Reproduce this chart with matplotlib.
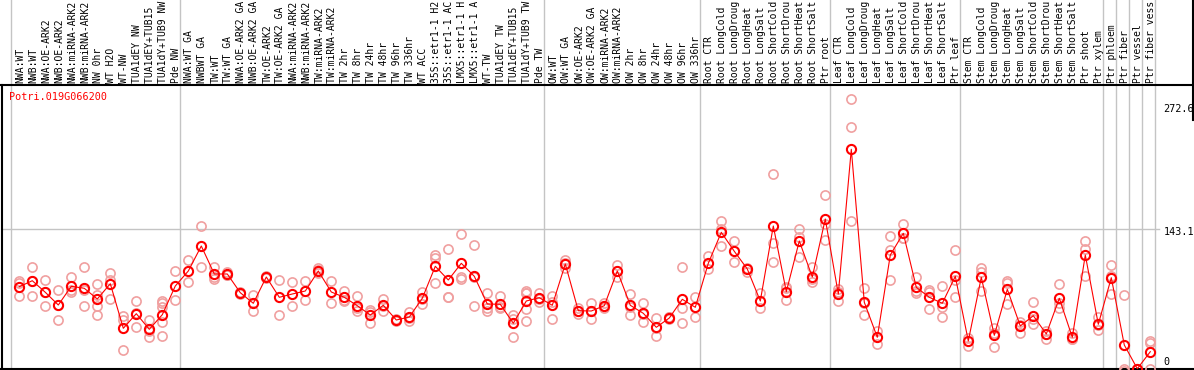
import matplotlib
matplotlib.use("Agg")
import matplotlib.pyplot as plt
import numpy as np

gene = "Potri.019G066200"

labels = [
    "NWA:WT", "NWB:WT", "NWA:OE-ARK2", "NWB:OE-ARK2", "NWA:miRNA-ARK2", "NWB:miRNA-ARK2",
    "NW 0hr", "WT H2O", "WT-NW", "TUA1dEY NW", "TUA1dEY+TUB15 NW", "TUA1dY+TUB9 NW", "Pde NW",
    "NWA:WT GA", "NWBWT GA", "TW:WT", "TW:WT GA", "NWA:OE-ARK2 GA", "NWB:OE-ARK2 GA",
    "TW:OE-ARK2", "TW:OE-ARK2 GA", "NWA:miRNA-ARK2 GA", "NWB:miRNA-ARK2 GA", "TW:miRNA-ARK2",
    "TW:miRNA-ARK2 GA", "TW 2hr", "TW 8hr", "TW 24hr", "TW 48hr", "TW 96hr", "TW 336hr",
    "WT ACC", "35S::etr1-1 H2O", "35S::etr1-1 ACC", "LMX5::etr1-1 H2O", "LMX5::etr1-1 ACC",
    "WT-TW", "TUA1dEY TW", "TUA1dEY+TUB15 TW", "TUA1dY+TUB9 TW", "Pde TW",
    "OW:WT", "OW:WT GA", "OW:OE-ARK2", "OW:OE-ARK2 GA", "OW:miRNA-ARK2", "OW:miRNA-ARK2 GA",
    "OW 2hr", "OW 8hr", "OW 24hr", "OW 48hr", "OW 96hr", "OW 336hr",
    "Root CTR", "Root LongCold", "Root LongDrought", "Root LongHeat", "Root LongSalt",
    "Root ShortCold", "Root ShortDrought", "Root ShortHeat", "Root ShortSalt", "Ptr root",
    "Leaf CTR", "Leaf LongCold", "Leaf LongDrought", "Leaf LongHeat", "Leaf LongSalt",
    "Leaf ShortCold", "Leaf ShortDrought", "Leaf ShortHeat", "Leaf ShortSalt", "Ptr leaf",
    "Stem CTR", "Stem LongCold", "Stem LongDrought", "Stem LongHeat", "Stem LongSalt",
    "Stem ShortCold", "Stem ShortDrought", "Stem ShortHeat", "Stem ShortSalt", "Ptr shoot",
    "Ptr xylem", "Ptr phloem", "Ptr fiber", "Ptr vessel", "Ptr fiber vessel",
]

group_sizes = [13, 28, 12, 10, 10, 11, 1, 1, 1, 1]

means = [
    85.0, 91.0, 79.4, 66.7, 85.4, 83.4, 72.7, 88.0, 43.4, 58.0, 42.4, 57.0, 85.7,
    100.7, 125.7, 97.7, 97.7, 79.0, 68.4, 94.7, 74.4, 77.7, 80.7, 100.7, 79.7, 74.4,
    66.0, 56.7, 66.4, 51.7, 54.7, 73.4, 105.4, 91.7, 108.4, 95.4, 67.7, 67.4, 48.4,
    70.7, 74.0, 66.4,
    107.7, 61.0, 60.7, 66.0, 100.7, 66.4, 58.4, 44.4, 53.7, 72.4, 64.4,
    108.4, 139.4, 120.4, 102.7, 70.7, 145.7, 80.0, 130.7, 94.7, 152.7,
    77.7, 222.4, 69.4, 34.4, 116.7, 138.4, 84.4, 74.4, 68.4, 95.4,
    30.7, 94.4, 36.4, 82.4, 45.7, 56.0, 37.7, 73.4, 34.4, 116.7, 47.4,
    94.0, 26.7, 3.0, 20.0,
]

replicates = [
    [90.7, 88.4, 75.4], [104.4, 91.0, 75.4], [91.4, 80.0, 65.4], [81.4, 66.7, 51.7],
    [94.7, 82.0, 79.4], [104.4, 81.7, 66.0], [87.7, 76.7, 66.0, 57.0], [98.4, 91.7, 72.4],
    [56.0, 51.7, 21.7], [70.7, 58.4, 45.0], [51.7, 41.0, 34.4], [71.0, 68.4, 64.4, 50.0, 36.0],
    [100.4, 71.4],
    [112.0, 89.4], [145.7, 104.4], [104.4, 95.0, 92.7], [100.0, 96.7, 96.4], [80.0, 79.0, 78.0],
    [76.4, 60.4], [95.7, 93.7], [91.4, 56.4], [89.4, 65.4], [90.7, 71.4], [103.4, 101.7, 99.0],
    [90.7, 68.4], [80.7, 71.7, 70.7], [75.4, 63.4, 61.0], [61.7, 60.0, 48.4], [73.0, 66.0, 60.4],
    [53.0, 51.7, 50.4], [59.4, 54.0, 50.7], [80.0, 73.0, 67.4], [116.4, 113.7, 88.4],
    [122.4, 75.0, 74.4], [137.7, 94.4, 92.4], [126.4, 94.4, 65.4], [78.7, 63.4, 61.0],
    [75.4, 64.4, 63.4], [57.0, 53.0, 34.4], [81.0, 79.0, 78.7, 63.0, 50.7], [79.0, 73.0, 70.0],
    [76.0, 70.0, 53.0],
    [111.7, 109.0, 104.0], [64.0, 61.0, 57.7], [68.4, 61.0, 52.4], [69.0, 65.5, 63.4],
    [106.7, 100.5, 95.0], [77.7, 65.0, 56.4], [68.4, 57.4, 49.4], [53.4, 44.0, 36.0],
    [55.0, 54.4, 52.4], [104.4, 64.0, 48.4], [74.4, 54.4],
    [115.7, 102.4], [150.7, 142.7, 126.0], [131.0, 109.4], [104.0, 100.0], [78.4, 64.0],
    [197.7, 129.0, 109.7], [85.0, 83.4, 71.7], [142.7, 135.0, 115.0], [104.4, 92.4, 90.0],
    [176.4, 147.7, 131.7],
    [82.7, 79.7, 70.7], [272.6, 244.4, 150.7], [83.4, 68.4, 56.4], [41.0, 27.4],
    [135.7, 121.7, 91.7], [147.4, 134.0, 133.4], [94.4, 81.0, 78.4], [81.7, 80.0, 62.4],
    [85.7, 65.0, 54.4], [121.7, 91.7, 74.4],
    [33.4, 25.7], [103.4, 100.0, 81.0], [43.4, 38.4, 24.4], [90.7, 89.0, 67.7],
    [50.0, 46.7, 38.4], [69.4, 52.4, 47.4], [41.0, 38.0, 32.4], [87.7, 69.0, 63.4],
    [38.4, 33.0, 32.4], [130.7, 122.7, 95.7], [54.4, 47.0, 41.7],
    [106.7, 95.7, 77.4], [76.7, 2.7, 0.7], [3.0, 3.0, 3.0], [31.0, 29.0, 3.0],
]

scale_ticks = [272.6, 143.1, 0]

W, H = 1194, 370
fig = plt.figure(figsize=(W / 100, H / 100), dpi=100)
ax = fig.add_axes([0, 0, 1, 1])

# pixel layout of the original: column i sits at x = 19.3 + 13 i, 1 px per unit
x0, dx = 19.3, 13.0
ytop = 371.7
ax.set_xlim(-x0 / dx, (W - x0) / dx)
ax.set_ylim(ytop - H, ytop)
ax.axis("off")

def px(v):
    return (v - x0) / dx

def py(v):
    return ytop - v

mono = "DejaVu Sans Mono"
red = "#ff0000"
pink = "#f0a0a0"
grey = "#c4c4c4"

x = np.arange(len(labels))

# group separators
bounds = np.concatenate([[0], np.cumsum(group_sizes)]) - 0.62
for b in bounds:
    ax.axvline(b, color=grey, lw=1.0, zorder=1)

# frame
ax.plot([px(1.5), px(1.5)], [py(84.7), py(369)], color="black", lw=1.5, zorder=2)
ax.plot([px(1192.5), px(1192.5)], [py(0), py(120)], color="black", lw=1.5, zorder=2)
ax.axhline(py(84.7), color="black", lw=1.5, zorder=2)
ax.axhline(py(369), color="black", lw=1.5, zorder=2)
ax.plot([px(1.5), px(1159)], [143.1, 143.1], color=grey, lw=1.0, zorder=1)

for i, reps in enumerate(replicates):
    ax.plot([i] * len(reps), reps, "o", mfc="none", mec=pink, ms=6.6, mew=1.2, zorder=3)

ax.plot(x, means, "-", color=red, lw=0.8, zorder=4)
ax.plot(x, means, "o", mfc="none", mec=red, ms=6.6, mew=1.5, zorder=5)

# the header strip only has room for 14 characters
for i, lab in enumerate(labels):
    ax.text(i + 0.08, py(83), lab[:14], rotation=90, ha="center", va="bottom",
            family=mono, fontsize=7.0, color="black")

ax.text(px(9.3), py(97), gene, ha="left", va="center", family=mono,
        fontsize=7.25, color=red)

offsets = [-9.5, -3.4, 9.7]
for t, off in zip(scale_ticks, offsets):
    ax.text(px(1163.3), t + off, "{:g}".format(t), ha="left", va="center",
            family=mono, fontsize=7.25, color="black")

fig.savefig("out.png", dpi=100)
